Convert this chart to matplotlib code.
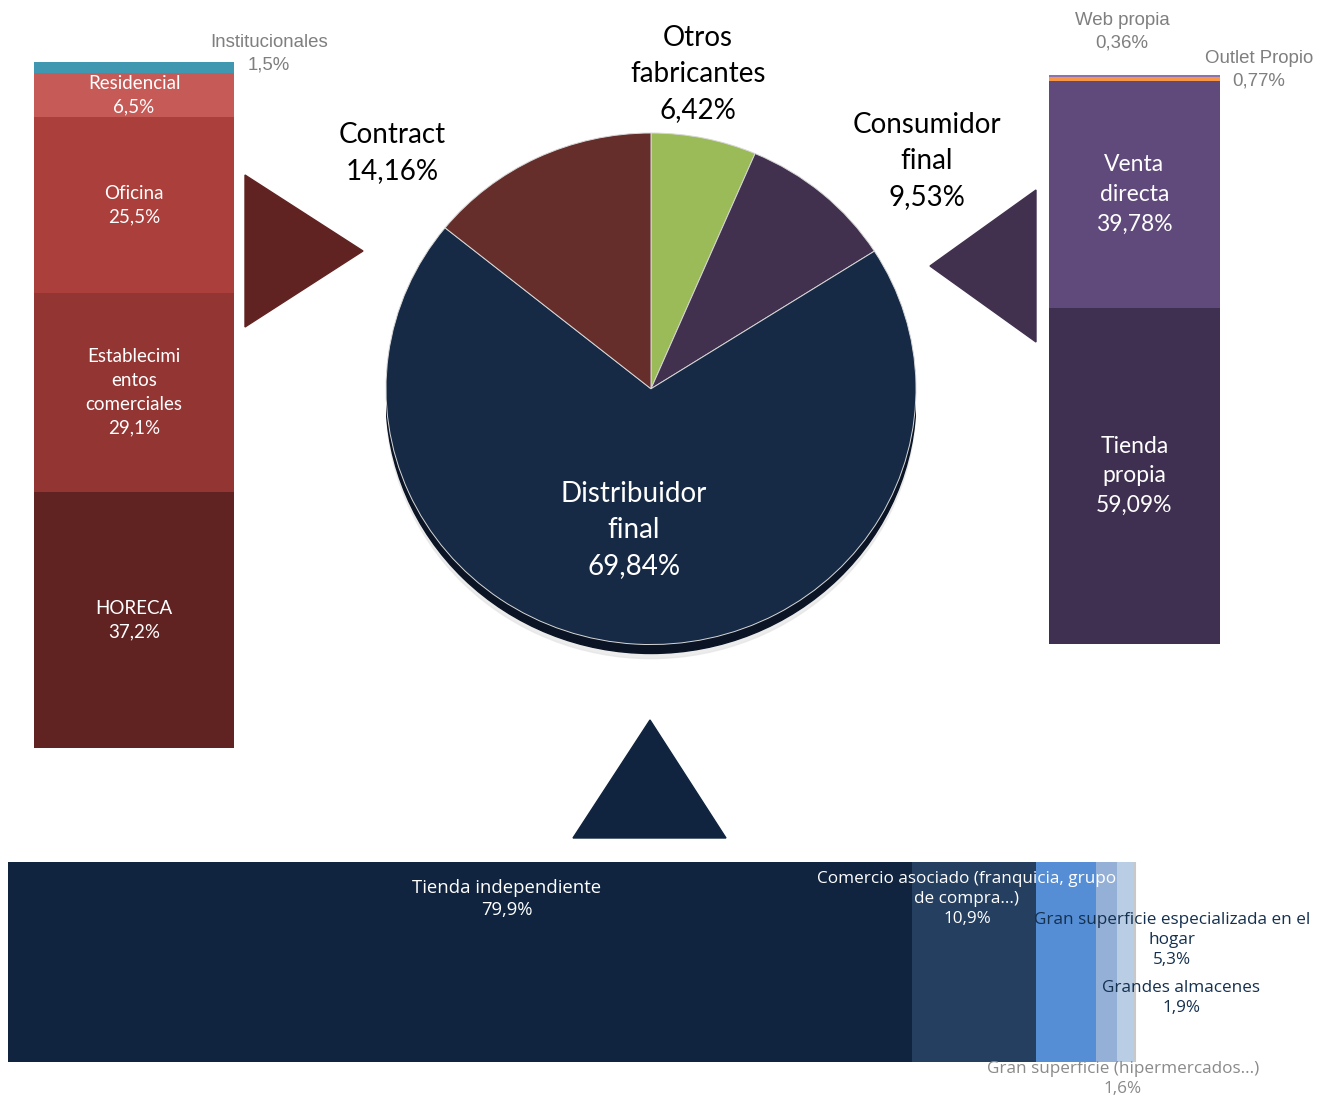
import matplotlib.pyplot as plt
from matplotlib.patches import Polygon, Ellipse

# main pie: canales de venta
pie_labels = ["Otros\nfabricantes", "Consumidor\nfinal", "Distribuidor\nfinal", "Contract"]
pie_values = [6.42, 9.53, 69.84, 14.16]
pie_colors = ["#9bbb59", "#41314f", "#172a45", "#652e2b"]

# Contract breakdown (bottom -> top)
contract_labels = ["HORECA", "Establecimi\nentos\ncomerciales", "Oficina", "Residencial", "Institucionales"]
contract_values = [37.2, 29.1, 25.5, 6.5, 1.5]
contract_colors = ["#612321", "#933532", "#aa3f3b", "#c55a57", "#3f97b0"]

# Consumidor final breakdown (bottom -> top)
consumidor_labels = ["Tienda\npropia", "Venta\ndirecta", "Outlet Propio", "Web propia"]
consumidor_values = [59.09, 39.78, 0.77, 0.36]
consumidor_colors = ["#3f2f50", "#604a7b", "#f79646", "#8c72b0"]

# Distribuidor final breakdown (left -> right)
distribuidor_labels = ["Tienda independiente",
                       "Comercio asociado (franquicia, grupo\nde compra...)",
                       "Gran superficie especializada en el\nhogar",
                       "Grandes almacenes",
                       "Gran superficie (hipermercados...)"]
distribuidor_values = [79.9, 10.9, 5.3, 1.9, 1.6]
distribuidor_colors = ["#10243f", "#243f60", "#558ed5", "#95b0d6", "#b9cde5"]

W, H = 1332, 1098
CAL = ["Lato", "DejaVu Sans"]
WIDE = ["Open Sans", "DejaVu Sans"]
ARI = ["Liberation Sans", "DejaVu Sans"]


def pct(v, d=1):
    return f"{v:.{d}f}".replace(".", ",") + "%"


def px_axes(x0, y0, x1, y1):
    return fig.add_axes([x0 / W, 1 - y1 / H, (x1 - x0) / W, (y1 - y0) / H])


fig = plt.figure(figsize=(W / 100, H / 100), dpi=100)

# --- pie ---
ax_pie = px_axes(386, 133, 916, 665)
ax_pie.add_patch(Ellipse((0, -0.055), 2.0, 2.0, color="#e4e4e4", alpha=0.7, zorder=0))
ax_pie.add_patch(Ellipse((0, -0.035), 2.0, 2.0, color="#0a1424", zorder=0))
wedges, _ = ax_pie.pie(pie_values, colors=pie_colors, startangle=90, counterclock=False,
                       radius=1, wedgeprops=dict(edgecolor="#d8d8d8", linewidth=0.7))
ax_pie.set_aspect("auto")
ax_pie.set_xlim(-1, 1)
ax_pie.set_ylim(-1.08, 1)
ax_pie.axis("off")

# --- left stacked bar (Contract) ---
ax_l = px_axes(34, 61, 234, 748)
bottom = 0
for lab, v, c in zip(contract_labels, contract_values, contract_colors):
    ax_l.bar(0, v, bottom=bottom, width=1, color=c)
    if lab != "Institucionales":
        ax_l.text(0, bottom + v / 2, f"{lab}\n{pct(v)}", color="white", ha="center", va="center",
                  fontsize=13.5, family=CAL, linespacing=1.48)
    bottom += v
ax_l.set_xlim(-0.5, 0.5)
ax_l.set_ylim(0, 100)
ax_l.axis("off")

# --- right stacked bar (Consumidor final) ---
ax_r = px_axes(1049, 75, 1220, 644)
bottom = 0
for lab, v, c in zip(consumidor_labels, consumidor_values, consumidor_colors):
    ax_r.bar(0, v, bottom=bottom, width=1, color=c)
    if v > 5:
        ax_r.text(0, bottom + v / 2, f"{lab}\n{pct(v, 2)}", color="white", ha="center", va="center",
                  fontsize=16.5, family=CAL, linespacing=1.52)
    bottom += v
ax_r.set_xlim(-0.5, 0.5)
ax_r.set_ylim(0, 100)
ax_r.axis("off")

# --- bottom stacked bar (Distribuidor final) ---
ax_b = px_axes(8, 862, 1140, 1062)
left = 0
for v, c in zip(distribuidor_values, distribuidor_colors):
    ax_b.barh(0, v, left=left, height=1, color=c)
    left += v
ax_b.axvline(left, color="#c8c8c8", lw=1.5)
ax_b.set_xlim(0, 100)
ax_b.set_ylim(-0.5, 0.5)
ax_b.axis("off")

# --- overlay: arrows and labels ---
ov = fig.add_axes([0, 0, 1, 1])
ov.set_xlim(0, W)
ov.set_ylim(H, 0)
ov.axis("off")
ov.patch.set_alpha(0)

ov.add_patch(Polygon([(245, 175), (245, 327), (363, 251)], color="#612321"))
ov.add_patch(Polygon([(1036, 190), (1036, 342), (930, 266)], color="#41314f"))
ov.add_patch(Polygon([(573, 838), (726, 838), (650, 720)], color="#10243f"))

big = dict(fontsize=20, family=CAL, ha="center", va="center", linespacing=1.46)
ov.text(698, 74, f"{pie_labels[0]}\n{pct(pie_values[0], 2)}", color="black", **big)
ov.text(927, 161, f"{pie_labels[1]}\n{pct(pie_values[1], 2)}", color="black", **big)
ov.text(634, 530, f"{pie_labels[2]}\n{pct(pie_values[2], 2)}", color="white", **big)
ov.text(392, 153, f"{pie_labels[3]}\n{pct(pie_values[3], 2)}", color="black", **big)

gray = dict(fontsize=13.4, family=ARI, ha="center", va="center", color="#7f7f7f", linespacing=1.45)
ov.text(269, 54, f"{contract_labels[4]}\n{pct(contract_values[4])}", **gray)
ov.text(1122, 32, f"{consumidor_labels[3]}\n{pct(consumidor_values[3], 2)}", **gray)
ov.text(1259, 70, f"{consumidor_labels[2]}\n{pct(consumidor_values[2], 2)}", **gray)

small = dict(fontsize=12.3, family=WIDE, ha="center", va="center", linespacing=1.3)
ov.text(507, 899, f"{distribuidor_labels[0]}\n{pct(distribuidor_values[0])}", color="white",
        **{**small, "fontsize": 13.3})
ov.text(967, 899, f"{distribuidor_labels[1]}\n{pct(distribuidor_values[1])}", color="white", **small)
ov.text(1172, 940, f"{distribuidor_labels[2]}\n{pct(distribuidor_values[2])}", color="#14304f", **small)
ov.text(1181, 998, f"{distribuidor_labels[3]}\n{pct(distribuidor_values[3])}", color="#14304f", **small)
ov.text(1123, 1079, f"{distribuidor_labels[4]}\n{pct(distribuidor_values[4])}", color="#8a8a8a", **small)

fig.savefig("out.png", dpi=100)
